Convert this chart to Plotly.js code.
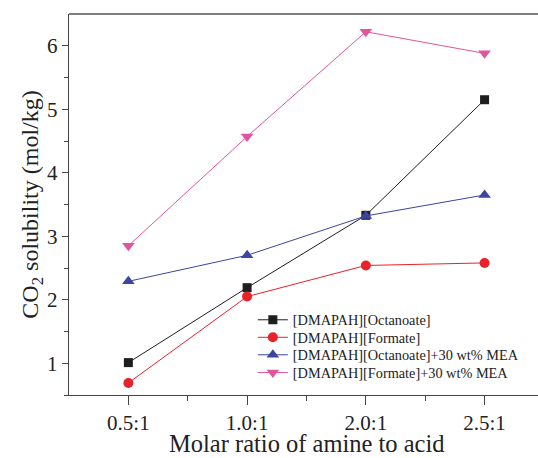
<!DOCTYPE html>
<html>
<head>
<meta charset="utf-8">
<script src="https://cdn.plot.ly/plotly-3.0.1.min.js"></script>
<style>html,body{margin:0;padding:0;background:#fff;}#chart{width:538px;height:458px;}</style>
</head>
<body>
<div id="chart"></div>
<script>
var categories = ["0.5:1", "1.0:1", "2.0:1", "2.5:1"];
var octanoate = [1.01, 2.19, 3.33, 5.15];
var formate = [0.69, 2.05, 2.54, 2.58];
var octanoateMEA = [2.29, 2.70, 3.32, 3.65];
var formateMEA = [2.85, 4.57, 6.22, 5.88];
var seriesNames = ["[DMAPAH][Octanoate]", "[DMAPAH][Formate]", "[DMAPAH][Octanoate]+30 wt% MEA", "[DMAPAH][Formate]+30 wt% MEA"];
var xTitle = "Molar ratio of amine to acid";
var yTitle = "CO<sub>2</sub> solubility (mol/kg)";

var xIdx = categories.map(function(c, i){ return i; });

function tr(y, name, color, symbol, size, leg) {
  return {
    x: xIdx, y: y, name: name, type: "scatter", mode: "lines+markers",
    line: {color: color, width: 1},
    marker: {color: color, symbol: symbol, size: size},
    legend: leg
  };
}

var data = [
  tr(octanoate, seriesNames[0], "#1e1e1e", "square", 9, "legend"),
  tr(formate, seriesNames[1], "#e8222a", "circle", 10, "legend2"),
  tr(octanoateMEA, seriesNames[2], "#3a46a0", "triangle-up", 11, "legend3"),
  tr(formateMEA, seriesNames[3], "#e0559f", "triangle-down", 11, "legend4")
];

var fontFam = "Liberation Serif, Times New Roman, serif";

function leg(py) {
  return {
    x: 0.392, y: (395 - py) / 381, xanchor: "left", yanchor: "middle",
    font: {family: fontFam, size: 14.3, color: "#222"},
    bgcolor: "rgba(0,0,0,0)", itemwidth: 30
  };
}

var layout = {
  width: 538, height: 458,
  margin: {l: 69, r: 0, t: 14, b: 63},
  paper_bgcolor: "#fff", plot_bgcolor: "#fff",
  font: {family: fontFam, color: "#222"},
  showlegend: true,
  legend: leg(320),
  legend2: leg(337.5),
  legend3: leg(355),
  legend4: leg(372.7),
  xaxis: {
    range: [-0.5, 3.45],
    tickvals: xIdx, ticktext: categories,
    showgrid: false, zeroline: false,
    showline: true, linecolor: "#444", linewidth: 1.2, mirror: false,
    ticks: "outside", ticklen: 9, tickcolor: "#444",
    minor: {tickvals: [0.5, 1.5, 2.5], ticks: "outside", ticklen: 5, tickcolor: "#444"},
    tickfont: {family: fontFam, size: 21, color: "#222"}
  },
  yaxis: {
    range: [0.5, 6.5],
    tickvals: [1, 2, 3, 4, 5, 6],
    showgrid: false, zeroline: false,
    showline: true, linecolor: "#444", linewidth: 1.2,
    ticks: "outside", ticklen: 6, tickcolor: "#444",
    minor: {tickvals: [0.5, 1.5, 2.5, 3.5, 4.5, 5.5], ticks: "outside", ticklen: 4, tickcolor: "#444"},
    tickfont: {family: fontFam, size: 21, color: "#222"},
    title: {text: yTitle, font: {family: fontFam, size: 24, color: "#222"}, standoff: 1}
  },
  annotations: [
    {text: xTitle, xref: "paper", yref: "paper", x: 0.507, y: -0.1286,
     xanchor: "center", yanchor: "middle", showarrow: false,
     font: {family: fontFam, size: 24.5, color: "#222"}}
  ],
  shapes: [
    {type: "line", xref: "paper", yref: "paper", x0: 0, x1: 1, y0: 1, y1: 1, line: {color: "#555", width: 1.5}}
  ]
};

Plotly.newPlot("chart", data, layout, {displayModeBar: false, staticPlot: true});
</script>
</body>
</html>
